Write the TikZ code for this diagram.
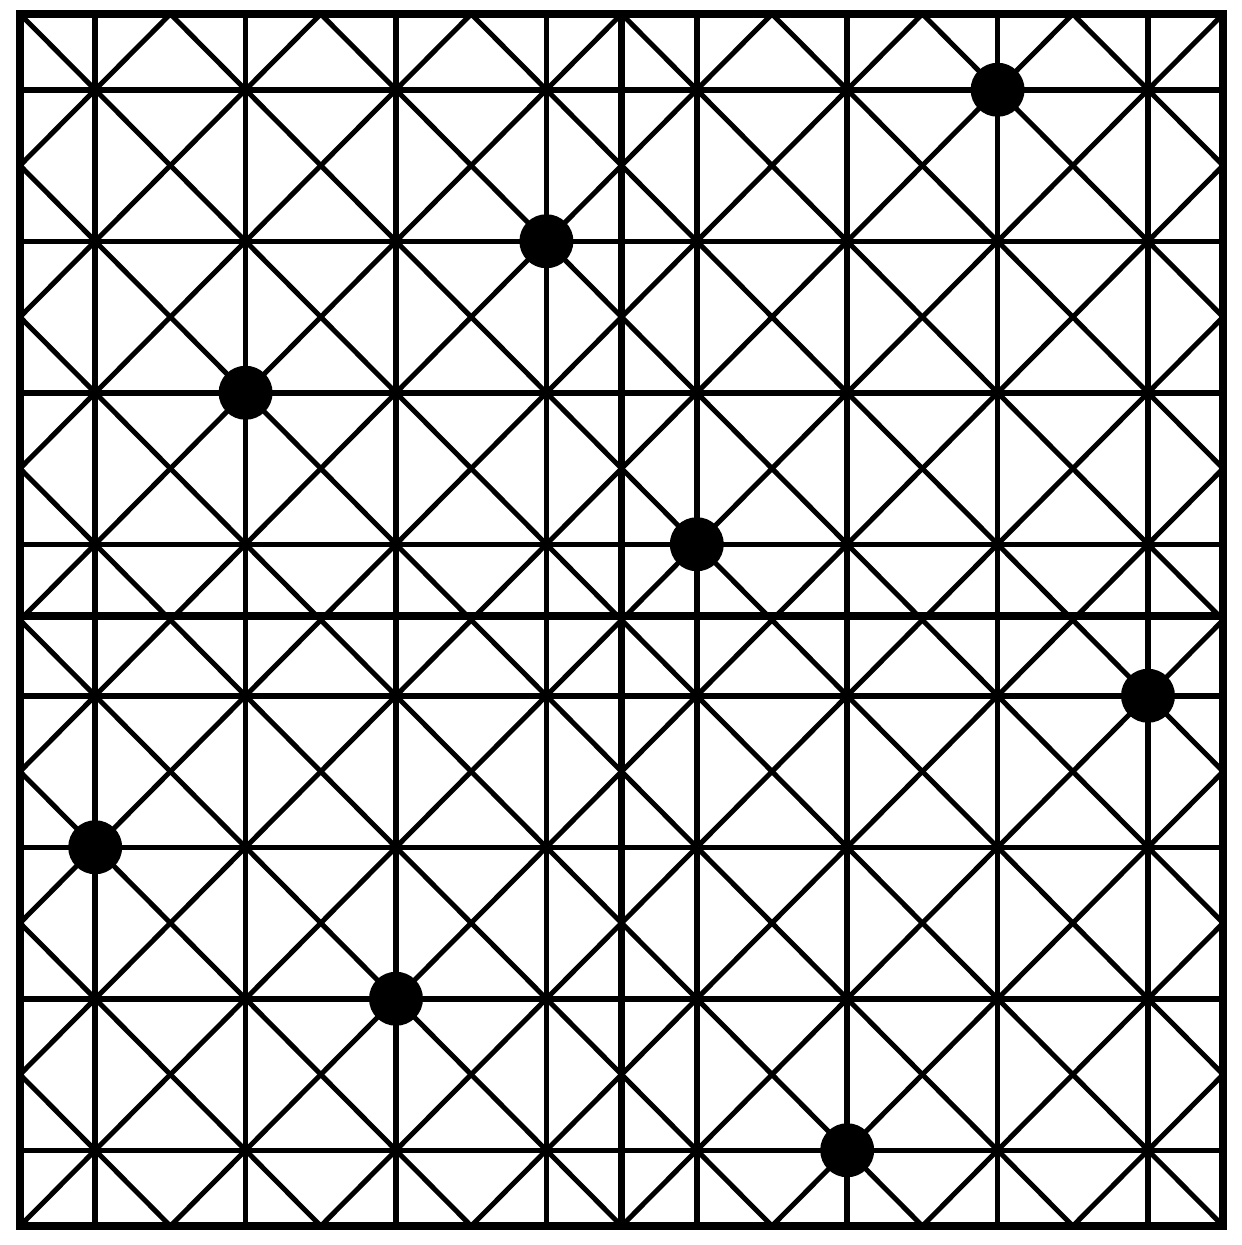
\documentclass[tikz,border=0pt]{standalone}
\begin{document}
\begin{tikzpicture}[x=75.2pt,y=-75.75pt,
  gridline/.style={line width=5.5pt, line cap=butt},
  heavyline/.style={line width=7.5pt, line cap=butt},
  diagline/.style={line width=5pt},
  queen/.style={circle, fill=black, inner sep=0pt, minimum size=54pt}]
\useasboundingbox (-20pt,14pt) rectangle (1222pt,-1231pt);
\begin{scope}
\clip (0,0) rectangle (16,16);
\foreach \k in {-8,...,8} \draw[diagline] ({2*\k-1},-1) -- ({2*\k+17},17);
\foreach \k in {0,...,16} \draw[diagline] ({2*\k+1},-1) -- ({2*\k-17},17);
\end{scope}
\foreach \i in {1,3,...,15} {
  \draw[gridline] (\i,0) -- (\i,16);
  \draw[gridline] (0,\i) -- (16,\i);
}
\draw[heavyline] (8,0) -- (8,16);
\draw[heavyline] (0,7.95) -- (16,7.95);
\draw[heavyline, line join=miter] (0,0) rectangle (16,16);
\node[queen] (q0) at (13,1) {};
\node[queen] (q1) at (7,3) {};
\node[queen] (q2) at (3,5) {};
\node[queen] (q3) at (9,7) {};
\node[queen] (q4) at (15,9) {};
\node[queen] (q5) at (1,11) {};
\node[queen] (q6) at (5,13) {};
\node[queen] (q7) at (11,15) {};
\end{tikzpicture}
\end{document}
